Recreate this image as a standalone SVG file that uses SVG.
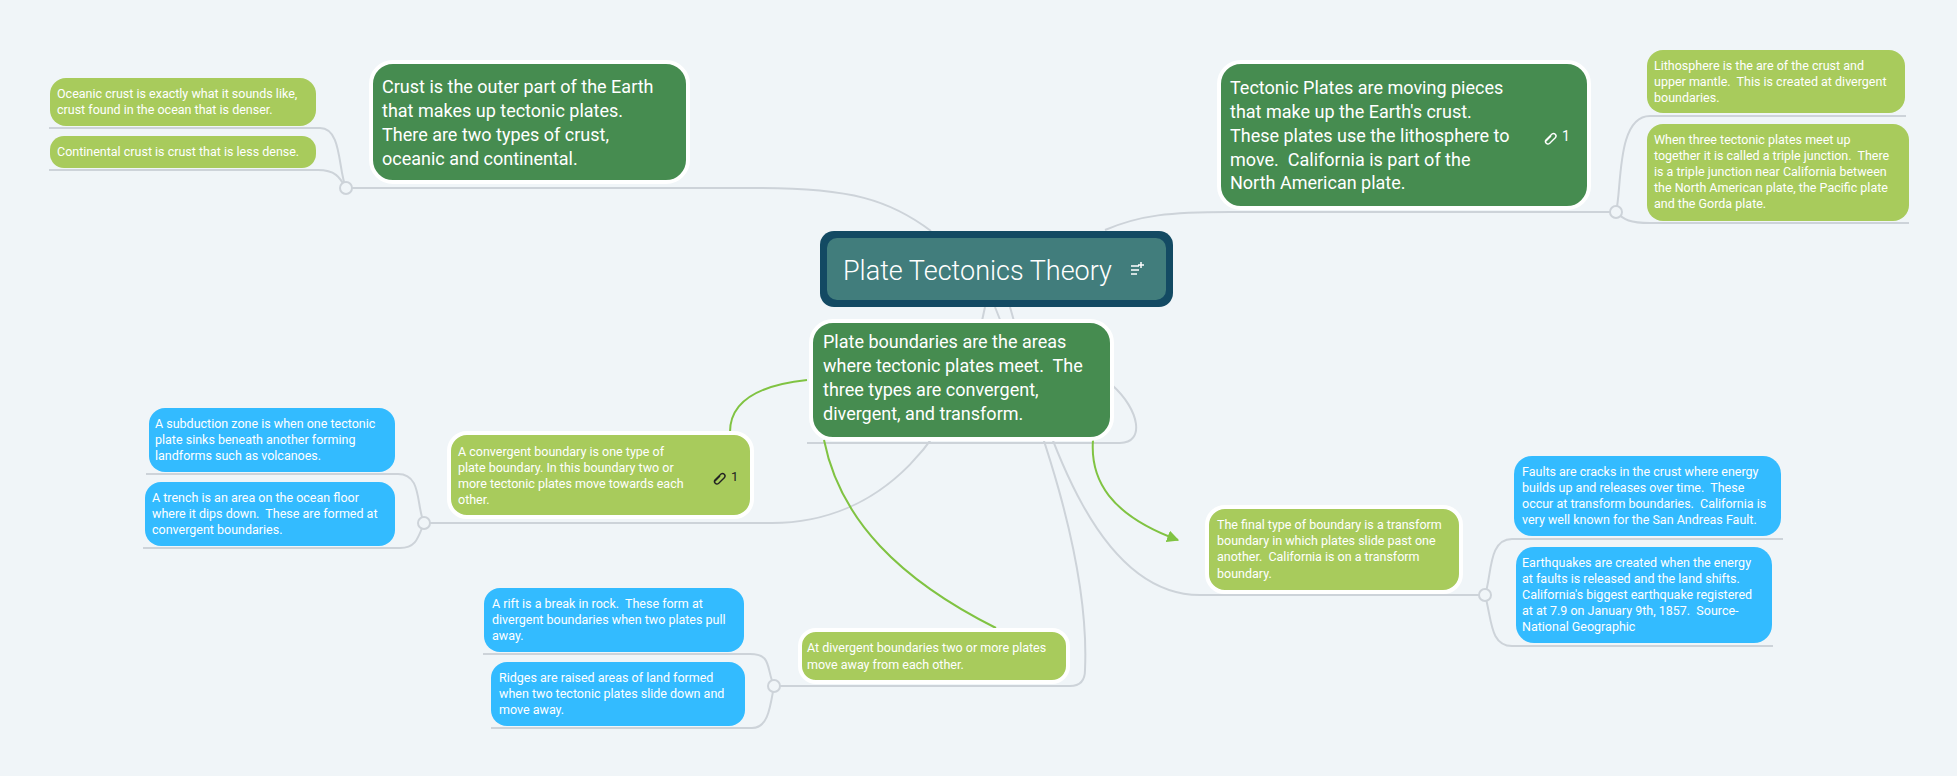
<svg xmlns="http://www.w3.org/2000/svg" width="1957" height="776" viewBox="0 0 1957 776">
<defs>
<style>
.bg{fill:#f0f5f8}
.dk{fill:#468c50;stroke:#fff;stroke-width:4}
.lg{fill:#a8cb5c}
.lgb{fill:#a8cb5c;stroke:#fff;stroke-width:4}
.bl{fill:#33bbff}
.c{fill:none;stroke:#cdd3d9;stroke-width:2}
.g{fill:none;stroke:#80c342;stroke-width:2}
.j{fill:#f0f5f8;stroke:#cdd3d9;stroke-width:2}
text{font-family:Roboto,"Liberation Sans",sans-serif;fill:#fff;white-space:pre}
.s{font-size:12.5px}
.m{font-size:18px}
.lk{fill:none;stroke-width:1.4}
</style>
<marker id="ah" viewBox="0 0 10 10" refX="9" refY="5" markerWidth="6" markerHeight="6" orient="auto"><path d="M0,0L10,5L0,10z" fill="#80c342"/></marker>
</defs>
<rect class="bg" width="1957" height="776"/>
<g id="connectors">
<path class="c" d="M931,231 C890,200 850,188 760,188 L346,188"/>
<path class="c" d="M346,188 C338,170 342,128 320,128 L49,128"/>
<path class="c" d="M346,188 C340,178 336,170 318,170 L49,170"/>
<path class="c" d="M1105,230 C1140,215 1170,212 1230,212 L1616,212"/>
<path class="c" d="M1616,212 C1622,190 1616,116 1650,116 L1906,116"/>
<path class="c" d="M1616,212 C1624,220 1630,223 1650,223 L1909,223"/>
<path class="c" d="M1112,385 C1140,410 1145,443 1120,443 L807,443"/>
<path class="c" d="M985,307 C960,440 880,523 772,523 L424,523"/>
<path class="c" d="M424,523 C416,505 422,474 398,474 L146,474"/>
<path class="c" d="M424,523 C418,538 416,548 400,548 L143,548"/>
<path class="c" d="M995,307 C1040,420 1090,560 1085,670 Q1085,686 1070,686 L774,686"/>
<path class="c" d="M774,686 C766,668 772,654 750,654 L483,654"/>
<path class="c" d="M774,686 C770,708 768,728 752,728 L491,728"/>
<path class="c" d="M1010,307 C1050,450 1100,595 1200,595 L1485,595"/>
<path class="c" d="M1485,595 C1492,575 1488,539 1512,539 L1783,539"/>
<path class="c" d="M1485,595 C1492,620 1490,646 1512,646 L1773,646"/>
<circle class="j" cx="346" cy="188" r="6"/>
<circle class="j" cx="1616" cy="212" r="6"/>
<circle class="j" cx="424" cy="523" r="6"/>
<circle class="j" cx="774" cy="686" r="6"/>
<circle class="j" cx="1485" cy="595" r="6"/>
<path class="g" d="M807,380 C760,385 730,400 730,432"/>
<path class="g" d="M824,440 C840,520 900,580 996,628"/>
<path class="g" d="M1093,440 C1090,480 1110,515 1178,540" marker-end="url(#ah)"/>
</g>
<g id="root">
<rect x="820" y="231" width="353" height="76" rx="14" fill="#134a63"/>
<rect x="827" y="238" width="339" height="62" rx="10" fill="#417d7c"/>
<text x="843" y="280" style="font-size:27px;font-weight:300">Plate Tectonics Theory</text>
<g fill="none" stroke="#fff" stroke-width="1.5"><path d="M1131,266h8M1131,270h8M1131,274h6M1141,262v6M1138,265h6"/></g>
</g>
<g id="crust">
<rect class="dk" x="371" y="62" width="317" height="120" rx="22"/>
<text class="m" x="382" y="93">Crust is the outer part of the Earth</text>
<text class="m" x="382" y="117">that makes up tectonic plates.</text>
<text class="m" x="382" y="141">There are two types of crust,</text>
<text class="m" x="382" y="165">oceanic and continental.</text>
</g>
<g id="oceanic">
<rect class="lg" x="50" y="78" width="266" height="48" rx="16"/>
<text class="s" x="57" y="98">Oceanic crust is exactly what it sounds like,</text>
<text class="s" x="57" y="114">crust found in the ocean that is denser.</text>
</g>
<g id="continental">
<rect class="lg" x="50" y="136" width="266" height="32" rx="14"/>
<text class="s" x="57" y="156">Continental crust is crust that is less dense.</text>
</g>
<g id="tectonic">
<rect class="dk" x="1219" y="62" width="370" height="146" rx="22"/>
<text class="m" x="1230" y="94">Tectonic Plates are moving pieces</text>
<text class="m" x="1230" y="118">that make up the Earth's crust.</text>
<text class="m" x="1230" y="142">These plates use the lithosphere to</text>
<text class="m" x="1230" y="166">move.  California is part of the</text>
<text class="m" x="1230" y="189">North American plate.</text>
<g class="lk" stroke="#fff"><path d="M1546,140 l6,-6 a2.5,2.5 0 0 1 3.5,3.5 l-6,6 a2.5,2.5 0 0 1 -3.5,-3.5z M1551,136 l-6,6"/></g>
<text x="1562" y="141" style="font-size:14px">1</text>
</g>
<g id="lithosphere">
<rect class="lg" x="1647" y="50" width="258" height="63" rx="16"/>
<text class="s" x="1654" y="70">Lithosphere is the are of the crust and</text>
<text class="s" x="1654" y="86">upper mantle.  This is created at divergent</text>
<text class="s" x="1654" y="102">boundaries.</text>
</g>
<g id="triple">
<rect class="lg" x="1647" y="124" width="262" height="97" rx="16"/>
<text class="s" x="1654" y="144">When three tectonic plates meet up</text>
<text class="s" x="1654" y="160">together it is called a triple junction.  There</text>
<text class="s" x="1654" y="176">is a triple junction near California between</text>
<text class="s" x="1654" y="192">the North American plate, the Pacific plate</text>
<text class="s" x="1654" y="208">and the Gorda plate.</text>
</g>
<g id="boundaries">
<rect class="dk" x="811" y="321" width="301" height="118" rx="22"/>
<text class="m" x="823" y="348">Plate boundaries are the areas</text>
<text class="m" x="823" y="372">where tectonic plates meet.  The</text>
<text class="m" x="823" y="396">three types are convergent,</text>
<text class="m" x="823" y="420">divergent, and transform.</text>
</g>
<g id="convergent">
<rect class="lgb" x="449" y="433" width="303" height="84" rx="18"/>
<text class="s" x="458" y="456">A convergent boundary is one type of</text>
<text class="s" x="458" y="472">plate boundary. In this boundary two or</text>
<text class="s" x="458" y="488">more tectonic plates move towards each</text>
<text class="s" x="458" y="504">other.</text>
<g class="lk" stroke="#222"><path d="M715,480 l6,-6 a2.5,2.5 0 0 1 3.5,3.5 l-6,6 a2.5,2.5 0 0 1 -3.5,-3.5z M720,476 l-6,6"/></g>
<text x="731" y="481" style="font-size:13px;fill:#222">1</text>
</g>
<g id="subduction">
<rect class="bl" x="149" y="408" width="246" height="64" rx="16"/>
<text class="s" x="155" y="428">A subduction zone is when one tectonic</text>
<text class="s" x="155" y="444">plate sinks beneath another forming</text>
<text class="s" x="155" y="460">landforms such as volcanoes.</text>
</g>
<g id="trench">
<rect class="bl" x="145" y="482" width="250" height="64" rx="16"/>
<text class="s" x="152" y="502">A trench is an area on the ocean floor</text>
<text class="s" x="152" y="518">where it dips down.  These are formed at</text>
<text class="s" x="152" y="534">convergent boundaries.</text>
</g>
<g id="divergent">
<rect class="lgb" x="800" y="630" width="268" height="52" rx="16"/>
<text class="s" x="807" y="652">At divergent boundaries two or more plates</text>
<text class="s" x="807" y="669">move away from each other.</text>
</g>
<g id="rift">
<rect class="bl" x="484" y="588" width="260" height="64" rx="16"/>
<text class="s" x="492" y="608">A rift is a break in rock.  These form at</text>
<text class="s" x="492" y="624">divergent boundaries when two plates pull</text>
<text class="s" x="492" y="640">away.</text>
</g>
<g id="ridges">
<rect class="bl" x="491" y="662" width="254" height="64" rx="16"/>
<text class="s" x="499" y="682">Ridges are raised areas of land formed</text>
<text class="s" x="499" y="698">when two tectonic plates slide down and</text>
<text class="s" x="499" y="714">move away.</text>
</g>
<g id="transform">
<rect class="lgb" x="1207" y="507" width="254" height="85" rx="18"/>
<text class="s" x="1217" y="529">The final type of boundary is a transform</text>
<text class="s" x="1217" y="545">boundary in which plates slide past one</text>
<text class="s" x="1217" y="561">another.  California is on a transform</text>
<text class="s" x="1217" y="578">boundary.</text>
</g>
<g id="faults">
<rect class="bl" x="1514" y="456" width="267" height="80" rx="18"/>
<text class="s" x="1522" y="476">Faults are cracks in the crust where energy</text>
<text class="s" x="1522" y="492">builds up and releases over time.  These</text>
<text class="s" x="1522" y="508">occur at transform boundaries.  California is</text>
<text class="s" x="1522" y="524">very well known for the San Andreas Fault.</text>
</g>
<g id="earthquakes">
<rect class="bl" x="1516" y="547" width="256" height="96" rx="18"/>
<text class="s" x="1522" y="567">Earthquakes are created when the energy</text>
<text class="s" x="1522" y="583">at faults is released and the land shifts.</text>
<text class="s" x="1522" y="599">California's biggest earthquake registered</text>
<text class="s" x="1522" y="615">at at 7.9 on January 9th, 1857.  Source-</text>
<text class="s" x="1522" y="631">National Geographic</text>
</g>
</svg>
